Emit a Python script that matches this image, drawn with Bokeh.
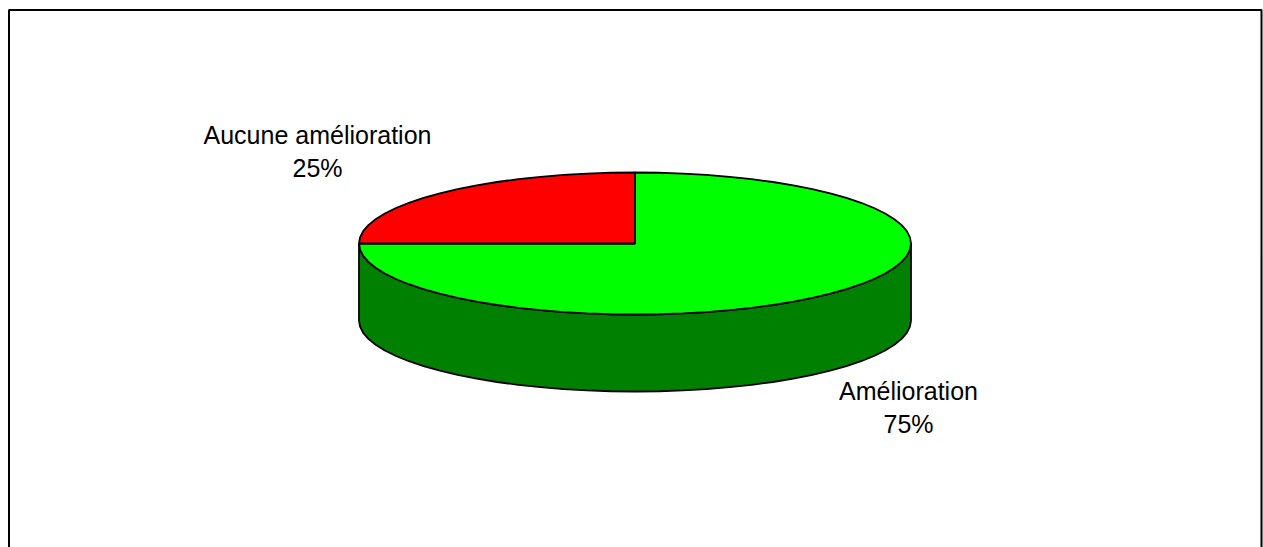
import numpy as np
from bokeh.plotting import figure
from bokeh.embed import file_html
from bokeh.resources import INLINE
from bokeh.core.properties import value

categories = ["Amélioration", "Aucune amélioration"]
shares = [75, 25]
top_colors = ["#00FF00", "#FF0000"]
side_color = "#008000"

W, H = 1263, 547
CX, CY = 634.5, 243
RX, RY = 276, 71
DEPTH = 77
FONT = "Liberation Sans"
FS = "25px"

p = figure(width=W, height=H, x_range=(0, W), y_range=(H, 0),
           output_backend="svg", toolbar_location=None,
           min_border=0, x_axis_type=None, y_axis_type=None)
p.grid.visible = False
p.background_fill_color = "white"
p.border_fill_color = "white"
p.outline_line_color = None


def rim(a0, a1):
    n = max(2, int(abs(a1 - a0) / 5) + 1)
    a = np.radians(np.linspace(a0, a1, n))
    return CX + RX * np.sin(a), CY - RY * np.cos(a)


# outer frame of the chart (the bottom edge lies outside the photographed page)
p.line([8.5, 8.5, 1261, 1261], [H + 20, 9.5, 9.5, H + 20], line_color="black", line_width=2)

# cylinder wall: the visible front half
wx, wy = rim(90, 270)
p.patch(np.r_[wx, wx[::-1]], np.r_[wy, wy[::-1] + DEPTH],
        fill_color=side_color, line_color="black", line_width=1.8)

# top slices, clockwise from twelve o'clock
start = 0.0
total = sum(shares)
for share, color in zip(shares, top_colors):
    end = start + 360.0 * share / total
    x, y = rim(start, end)
    p.patch(np.r_[CX, x], np.r_[CY, y], fill_color=color,
            line_color="black", line_width=1.8)
    start = end

labels = [
    (908, 390, categories[0]), (908, 423, f"{shares[0]}%"),
    (317, 134, categories[1]), (317, 167, f"{shares[1]}%"),
]
p.text([l[0] for l in labels], [l[1] for l in labels], text=[l[2] for l in labels],
       text_font=value(FONT), text_font_size=FS, text_color="black",
       text_align="center", text_baseline="middle")

open("out.html", "w").write(file_html(p, INLINE))
